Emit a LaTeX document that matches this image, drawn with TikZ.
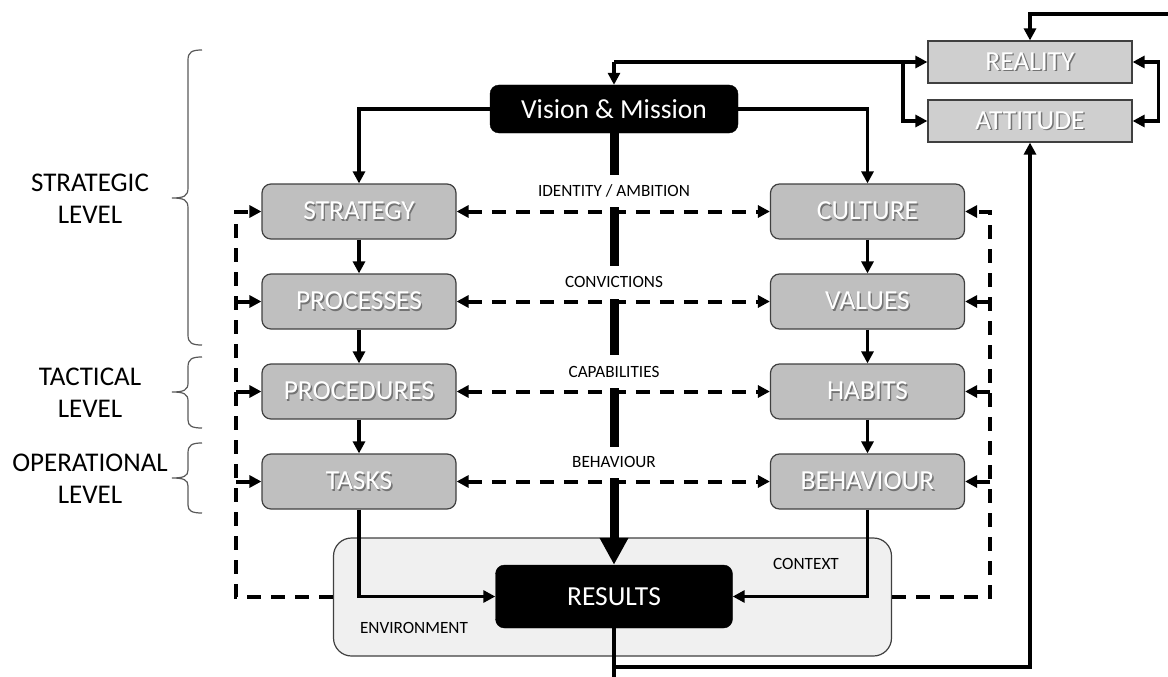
\documentclass[tikz,border=0pt]{standalone}
\usepackage{fontspec}
\setmainfont{Carlito}
\usetikzlibrary{arrows.meta,calc}

% white box caption with a soft dark drop shadow
\newcommand{\shadowed}[1]{\makebox[0pt][l]{\hspace{1.4pt}\raisebox{-1.4pt}{\color{black!55}#1}}{\color{white}#1}}
\newcommand{\bigfont}{\fontsize{27.5}{32}\selectfont}
\newcommand{\levelfont}{\fontsize{27}{32}\selectfont}
\newcommand{\smallfont}{\fontsize{17.2}{20}\selectfont}

\begin{document}
\begin{tikzpicture}[x=1pt,y=-1pt,
  >={Triangle[length=12pt,width=12pt]},
  rowbox/.style={draw=black!75, line width=1.2pt, fill=black!25, rounded corners=9pt,
    minimum width=194pt, minimum height=55pt, inner sep=0pt, font=\bigfont},
  topbox/.style={draw=black!75, line width=1.2pt, fill=black!19,
    minimum width=204pt, minimum height=42pt, inner sep=0pt, font=\bigfont},
  darkbox/.style={fill=black, draw=black, rounded corners=9pt, text=white,
    inner sep=0pt, font=\bigfont},
  envbox/.style={draw=black!75, line width=1.2pt, fill=black!6, rounded corners=18pt,
    minimum width=558pt, minimum height=118pt, inner sep=0pt},
  midlabel/.style={font=\smallfont, inner sep=1pt},
  levellabel/.style={font=\levelfont, align=center, inner sep=0pt},
  conn/.style={line width=3.5pt, ->},
  plain/.style={line width=3.5pt},
  dconn/.style={line width=4pt, dash pattern=on 14pt off 10pt, ->},
  dplain/.style={line width=4pt, dash pattern=on 14pt off 10pt},
  bar/.style={line width=9pt},
  bracepath/.style={draw=black!65, line width=1.2pt},
]
\useasboundingbox (0,0) rectangle (1168,677);

% context / environment frame
\node[envbox] (env) at (612.5,597) {};
\node[midlabel] (envlabel) at (414,628) {ENVIRONMENT};
\node[midlabel] (ctxlabel) at (806,564) {CONTEXT};

% main boxes
\node[darkbox, minimum width=248pt, minimum height=48pt] (vision) at (614,109) {Vision \& Mission};
\node[darkbox, minimum width=237pt, minimum height=63pt] (results) at (614,596.5) {RESULTS};

\node[topbox] (reality) at (1030,62) {\shadowed{REALITY}};
\node[topbox] (attitude) at (1030,121) {\shadowed{ATTITUDE}};

\node[rowbox] (strategy)   at (359,211.5) {\shadowed{STRATEGY}};
\node[rowbox] (processes)  at (359,301.5) {\shadowed{PROCESSES}};
\node[rowbox] (procedures) at (359,391.5) {\shadowed{PROCEDURES}};
\node[rowbox] (tasks)      at (359,481.5) {\shadowed{TASKS}};

\node[rowbox] (culture)   at (867.5,211.5) {\shadowed{CULTURE}};
\node[rowbox] (values)    at (867.5,301.5) {\shadowed{VALUES}};
\node[rowbox] (habits)    at (867.5,391.5) {\shadowed{HABITS}};
\node[rowbox] (behaviour) at (867.5,481.5) {\shadowed{BEHAVIOUR}};

% labels along the central axis
\node[midlabel] (identity)     at (614,191) {IDENTITY / AMBITION};
\node[midlabel] (convictions)  at (614,282) {CONVICTIONS};
\node[midlabel] (capabilities) at (614,372) {CAPABILITIES};
\node[midlabel] (behavlabel)   at (614,462) {BEHAVIOUR};

% central thick axis
\coordinate (b1) at (614,175);
\coordinate (b2a) at (614,207); \coordinate (b2b) at (614,266);
\coordinate (b3a) at (614,299); \coordinate (b3b) at (614,355);
\coordinate (b4a) at (614,388); \coordinate (b4b) at (614,447);
\coordinate (b5a) at (614,478);
\draw[bar] (vision.south) -- (b1);
\draw[bar] (b2a) -- (b2b);
\draw[bar] (b3a) -- (b3b);
\draw[bar] (b4a) -- (b4b);
\draw[bar, -{Triangle[length=27pt,width=27pt]}] (b5a) -- (results.north);

% dashed links between the two columns
\draw[dplain, <->] (strategy.east) -- (culture.west);
\draw[dplain, <->] (processes.east) -- (values.west);
\draw[dplain, <->] (procedures.east) -- (habits.west);
\draw[dplain, <->] (tasks.east) -- (behaviour.west);

% dashed feedback loops from the environment
\coordinate (lc) at (236,597);
\coordinate (rc) at (990,597);
\draw[dconn] (env.west) -- (lc) |- (strategy.west);
\draw[dconn] (lc |- processes.west) -- (processes.west);
\draw[dconn] (lc |- procedures.west) -- (procedures.west);
\draw[dconn] (lc |- tasks.west) -- (tasks.west);
\draw[dconn] (env.east) -- (rc) |- (culture.east);
\draw[dconn] (rc |- values.east) -- (values.east);
\draw[dconn] (rc |- habits.east) -- (habits.east);
\draw[dconn] (rc |- behaviour.east) -- (behaviour.east);

% vertical chains
\draw[conn] (vision.west) -| (strategy.north);
\draw[conn] (vision.east) -| (culture.north);
\draw[conn] (strategy.south) -- (processes.north);
\draw[conn] (processes.south) -- (procedures.north);
\draw[conn] (procedures.south) -- (tasks.north);
\draw[conn] (culture.south) -- (values.north);
\draw[conn] (values.south) -- (habits.north);
\draw[conn] (habits.south) -- (behaviour.north);
\draw[conn] (tasks.south) |- (results.west);
\draw[conn] (behaviour.south) |- (results.east);

% reality / attitude loop
\coordinate (feedin) at (1168,14);
\coordinate (vtop) at (614,62);
\coordinate (split) at (903,62);
\coordinate (resout) at (614,677);
\coordinate (resturn) at (614,667);
\draw[conn] (feedin) -| (reality.north);
\draw[conn] (vtop) -- (vision.north);
\draw[conn] (vtop) -- (reality.west);
\draw[conn] (split) |- (attitude.west);
\draw[plain, <->] (reality.east) -- ++(26,0) |- (attitude.east);
\draw[plain] (results.south) -- (resout);
\draw[conn] (resturn) -| (attitude.south);

% level braces
\draw[bracepath] (202,50) .. controls (192,50) and (188,52) .. (188,60) -- (188,188)
  .. controls (188,196) and (184,198) .. (172,198)
  .. controls (184,198) and (188,200) .. (188,208) -- (188,335)
  .. controls (188,343) and (192,345) .. (202,345);
\draw[bracepath] (202,357) .. controls (192,357) and (188,359) .. (188,367) -- (188,383)
  .. controls (188,390) and (184,392) .. (172,392)
  .. controls (184,392) and (188,394) .. (188,401) -- (188,420)
  .. controls (188,426) and (192,428) .. (202,428);
\draw[bracepath] (202,443) .. controls (192,443) and (188,445) .. (188,453) -- (188,470)
  .. controls (188,476) and (184,478) .. (172,478)
  .. controls (184,478) and (188,480) .. (188,486) -- (188,505)
  .. controls (188,511) and (192,513) .. (202,513);

\node[levellabel] (strategic)   at (90,199)   {STRATEGIC\\LEVEL};
\node[levellabel] (tactical)    at (90,392.5) {TACTICAL\\LEVEL};
\node[levellabel] (operational) at (90,479)   {OPERATIONAL\\LEVEL};
\end{tikzpicture}
\end{document}
